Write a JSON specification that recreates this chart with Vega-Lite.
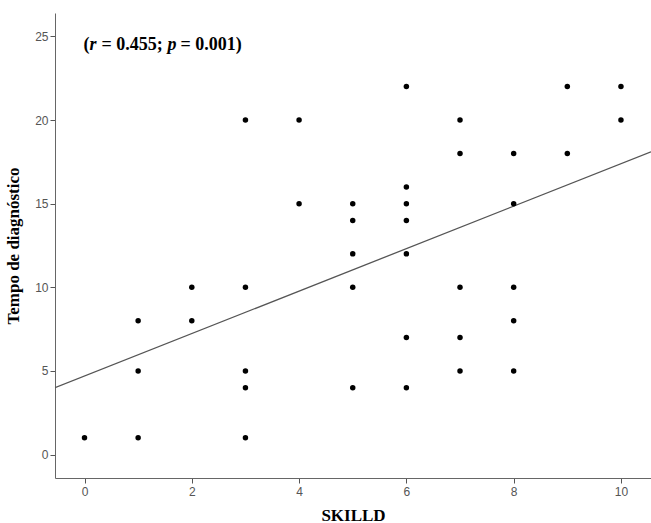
{
  "$schema": "https://vega.github.io/schema/vega-lite/v6.json",
  "width": 596,
  "height": 465,
  "autosize": {"type": "none"},
  "padding": {"left": 55, "top": 13, "right": 0, "bottom": 45},
  "background": "white",
  "config": {"view": {"stroke": null}},
  "datasets": {
    "pts": [
      {"SKILLD": 0, "Tempo": 1},
      {"SKILLD": 1, "Tempo": 8}, {"SKILLD": 1, "Tempo": 5}, {"SKILLD": 1, "Tempo": 1},
      {"SKILLD": 2, "Tempo": 10}, {"SKILLD": 2, "Tempo": 8},
      {"SKILLD": 3, "Tempo": 20}, {"SKILLD": 3, "Tempo": 10}, {"SKILLD": 3, "Tempo": 5}, {"SKILLD": 3, "Tempo": 4}, {"SKILLD": 3, "Tempo": 1},
      {"SKILLD": 4, "Tempo": 20}, {"SKILLD": 4, "Tempo": 15},
      {"SKILLD": 5, "Tempo": 15}, {"SKILLD": 5, "Tempo": 14}, {"SKILLD": 5, "Tempo": 12}, {"SKILLD": 5, "Tempo": 10}, {"SKILLD": 5, "Tempo": 4},
      {"SKILLD": 6, "Tempo": 22}, {"SKILLD": 6, "Tempo": 16}, {"SKILLD": 6, "Tempo": 15}, {"SKILLD": 6, "Tempo": 14}, {"SKILLD": 6, "Tempo": 12}, {"SKILLD": 6, "Tempo": 7}, {"SKILLD": 6, "Tempo": 4},
      {"SKILLD": 7, "Tempo": 20}, {"SKILLD": 7, "Tempo": 18}, {"SKILLD": 7, "Tempo": 10}, {"SKILLD": 7, "Tempo": 7}, {"SKILLD": 7, "Tempo": 5},
      {"SKILLD": 8, "Tempo": 18}, {"SKILLD": 8, "Tempo": 15}, {"SKILLD": 8, "Tempo": 10}, {"SKILLD": 8, "Tempo": 8}, {"SKILLD": 8, "Tempo": 5},
      {"SKILLD": 9, "Tempo": 22}, {"SKILLD": 9, "Tempo": 18},
      {"SKILLD": 10, "Tempo": 22}, {"SKILLD": 10, "Tempo": 20}
    ],
    "fit": [
      {"SKILLD": -0.55, "Tempo": 4.0},
      {"SKILLD": 10.56, "Tempo": 18.1}
    ],
    "ann": [
      {"SKILLD": 0, "Tempo": 24.18, "t1": "(", "t2": "r", "t3": "= 0.455;", "t4": "p", "t5": "= 0.001)"}
    ]
  },
  "encoding": {
    "x": {
      "field": "SKILLD", "type": "quantitative",
      "scale": {"domain": [-0.55, 10.56], "nice": false, "zero": false},
      "axis": {
        "title": "SKILLD", "values": [0, 2, 4, 6, 8, 10], "grid": false,
        "domainColor": "#666", "tickColor": "#555", "tickSize": 5,
        "labelFont": "Liberation Sans", "labelFontSize": 12, "labelColor": "#555", "labelPadding": 3,
        "titleFont": "Liberation Serif", "titleFontSize": 17, "titleFontWeight": "bold", "titleColor": "#000", "titlePadding": 10
      }
    },
    "y": {
      "field": "Tempo", "type": "quantitative",
      "scale": {"domain": [-1.4, 26.4], "nice": false, "zero": false},
      "axis": {
        "title": "Tempo de diagnóstico", "values": [0, 5, 10, 15, 20, 25], "grid": false,
        "domainColor": "#666", "tickColor": "#555", "tickSize": 5,
        "labelFont": "Liberation Sans", "labelFontSize": 12, "labelColor": "#555", "labelPadding": 2,
        "titleFont": "Liberation Serif", "titleFontSize": 17, "titleFontWeight": "bold", "titleColor": "#000", "titlePadding": 12
      }
    }
  },
  "layer": [
    {"data": {"name": "fit"}, "mark": {"type": "line", "color": "#555", "strokeWidth": 1.3, "clip": true}},
    {"data": {"name": "pts"}, "mark": {"type": "point", "filled": true, "color": "#000", "opacity": 1, "size": 30}},
    {"data": {"name": "ann"}, "mark": {"type": "text", "font": "Liberation Serif", "fontSize": 18, "fontWeight": "bold", "align": "left", "baseline": "alphabetic", "dx": -1, "color": "#000"}, "encoding": {"text": {"field": "t1"}}},
    {"data": {"name": "ann"}, "mark": {"type": "text", "font": "Liberation Serif", "fontSize": 18, "fontWeight": "bold", "fontStyle": "italic", "align": "left", "baseline": "alphabetic", "dx": 5, "color": "#000"}, "encoding": {"text": {"field": "t2"}}},
    {"data": {"name": "ann"}, "mark": {"type": "text", "font": "Liberation Serif", "fontSize": 18, "fontWeight": "bold", "align": "left", "baseline": "alphabetic", "dx": 17, "color": "#000"}, "encoding": {"text": {"field": "t3"}}},
    {"data": {"name": "ann"}, "mark": {"type": "text", "font": "Liberation Serif", "fontSize": 18, "fontWeight": "bold", "fontStyle": "italic", "align": "left", "baseline": "alphabetic", "dx": 83, "color": "#000"}, "encoding": {"text": {"field": "t4"}}},
    {"data": {"name": "ann"}, "mark": {"type": "text", "font": "Liberation Serif", "fontSize": 18, "fontWeight": "bold", "align": "left", "baseline": "alphabetic", "dx": 96, "color": "#000"}, "encoding": {"text": {"field": "t5"}}}
  ]
}
